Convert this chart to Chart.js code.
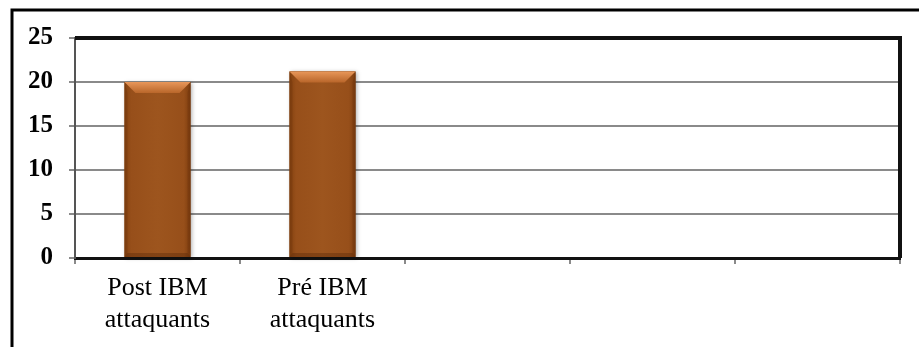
<!DOCTYPE html>
<html>
<head>
<meta charset="utf-8">
<script src="https://cdn.jsdelivr.net/npm/chart.js@4.4.1/dist/chart.umd.min.js"></script>
<style>
  html, body { margin: 0; padding: 0; background: #fff; }
  #wrap { width: 919px; height: 347px; position: relative; }
</style>
</head>
<body>
<div id="wrap"><canvas id="c" width="919" height="347"></canvas></div>
<script>
// Category labels (two lines each) and values
const categories = [
  ['Post IBM', 'attaquants'],
  ['Pré IBM', 'attaquants'],
  '',
  '',
  ''
];
const values = [20, 21.2, null, null, null];
const yTicks = [0, 5, 10, 15, 20, 25];

// Outer frame of the figure, and the heavy box around the plot area
const framePlugin = {
  id: 'frame',
  afterDraw(chart) {
    const ctx = chart.ctx;
    const a = chart.chartArea;
    ctx.save();
    ctx.strokeStyle = '#000';
    ctx.lineWidth = 3;
    ctx.beginPath();
    ctx.moveTo(12, 347);
    ctx.lineTo(12, 10);
    ctx.lineTo(919, 10);
    ctx.stroke();

    ctx.lineWidth = 4;
    ctx.strokeStyle = '#111';
    ctx.beginPath();
    ctx.moveTo(a.left, a.top);
    ctx.lineTo(a.right, a.top);
    ctx.lineTo(a.right, a.bottom);
    ctx.stroke();
    ctx.restore();
  }
};

// Bevelled brown shading on each bar
const bevelPlugin = {
  id: 'bevel',
  afterDatasetsDraw(chart) {
    const ctx = chart.ctx;
    const meta = chart.getDatasetMeta(0);
    meta.data.forEach((bar, i) => {
      if (values[i] == null) return;
      const p = bar.getProps(['x', 'y', 'base', 'width'], true);
      const l = p.x - p.width / 2, r = p.x + p.width / 2;
      const t = p.y, b = p.base;
      const bev = 11;
      ctx.save();
      // soft shadow
      ctx.shadowColor = 'rgba(0,0,0,0.3)';
      ctx.shadowBlur = 4;
      ctx.shadowOffsetX = 1;
      ctx.shadowOffsetY = 1;
      const g = ctx.createLinearGradient(l, 0, r, 0);
      g.addColorStop(0, '#83410f');
      g.addColorStop(0.1, '#974f1a');
      g.addColorStop(0.5, '#9d551e');
      g.addColorStop(0.9, '#974f1a');
      g.addColorStop(1, '#7c3c0e');
      ctx.fillStyle = g;
      ctx.fillRect(l, t, r - l, b - t);
      ctx.shadowColor = 'transparent';
      // top bevel
      const gt = ctx.createLinearGradient(0, t, 0, t + bev);
      gt.addColorStop(0, '#e8975a');
      gt.addColorStop(1, '#b9662a');
      ctx.fillStyle = gt;
      ctx.beginPath();
      ctx.moveTo(l, t);
      ctx.lineTo(r, t);
      ctx.lineTo(r - bev, t + bev);
      ctx.lineTo(l + bev, t + bev);
      ctx.closePath();
      ctx.fill();
      // side bevels
      ctx.fillStyle = 'rgba(90,40,8,0.22)';
      ctx.beginPath();
      ctx.moveTo(l, t);
      ctx.lineTo(l + 3, t + bev);
      ctx.lineTo(l + 3, b - 4);
      ctx.lineTo(l, b);
      ctx.closePath();
      ctx.fill();
      ctx.beginPath();
      ctx.moveTo(r, t);
      ctx.lineTo(r - 3, t + bev);
      ctx.lineTo(r - 3, b - 4);
      ctx.lineTo(r, b);
      ctx.closePath();
      ctx.fill();
      // bottom bevel
      ctx.fillStyle = 'rgba(80,35,5,0.35)';
      ctx.beginPath();
      ctx.moveTo(l, b);
      ctx.lineTo(l + 3, b - 4);
      ctx.lineTo(r - 3, b - 4);
      ctx.lineTo(r, b);
      ctx.closePath();
      ctx.fill();
      ctx.restore();
    });
  }
};

new Chart(document.getElementById('c'), {
  type: 'bar',
  data: {
    labels: categories,
    datasets: [{
      data: values,
      backgroundColor: '#9c561e',
      borderWidth: 0,
      barPercentage: 0.8,
      categoryPercentage: 0.5
    }]
  },
  options: {
    responsive: false,
    animation: false,
    devicePixelRatio: 1,
    layout: { padding: { left: 0, right: 19, top: 38, bottom: 0 } },
    plugins: { legend: { display: false }, tooltip: { enabled: false } },
    scales: {
      x: {
        afterFit(scale) { scale.height = 89; },
        grid: {
          offset: true,
          drawOnChartArea: false,
          drawTicks: true,
          tickLength: 6,
          color: '#8a8a8a',
          lineWidth: 2
        },
        border: { color: '#111', width: 3 },
        ticks: {
          color: '#000',
          padding: 9,
          maxRotation: 0,
          autoSkip: false,
          font: { family: '"Liberation Serif", "Times New Roman", serif', size: 26 }
        }
      },
      y: {
        min: 0,
        max: 25,
        afterFit(scale) { scale.width = 75; },
        afterBuildTicks(scale) { scale.ticks = yTicks.map(v => ({ value: v })); },
        grid: {
          color: '#8a8a8a',
          lineWidth: 2,
          drawTicks: true,
          tickLength: 6
        },
        border: { color: '#555', width: 2 },
        ticks: {
          color: '#000',
          padding: 16,
          font: { family: '"Liberation Serif", "Times New Roman", serif', size: 25, weight: 'bold' }
        }
      }
    }
  },
  plugins: [bevelPlugin, framePlugin]
});
</script>
</body>
</html>
